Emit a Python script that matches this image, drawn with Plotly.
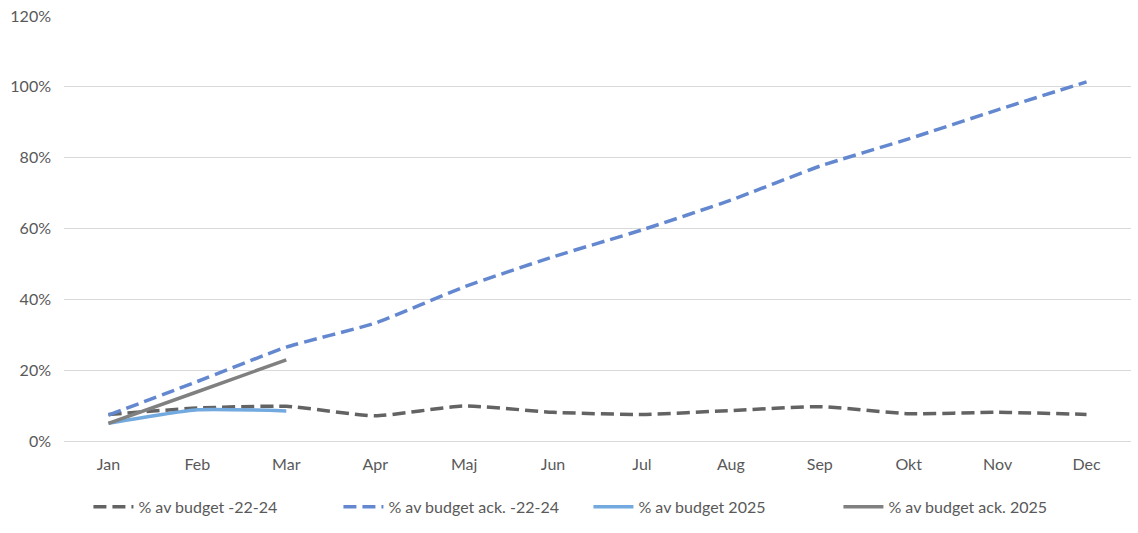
import plotly.graph_objects as go

months = ["Jan", "Feb", "Mar", "Apr", "Maj", "Jun", "Jul", "Aug", "Sep", "Okt", "Nov", "Dec"]
budget_22_24 = [0.075, 0.093, 0.098, 0.071, 0.099, 0.081, 0.075, 0.086, 0.097, 0.077, 0.081, 0.075]
budget_ack_22_24 = [0.073, 0.168, 0.265, 0.333, 0.435, 0.52, 0.596, 0.68, 0.776, 0.853, 0.935, 1.014]
budget_2025 = [0.05, 0.088, 0.085]
budget_ack_2025 = [0.05, 0.139, 0.229]

font = "Lato, 'Open Sans', sans-serif"
fig = go.Figure()
fig.add_trace(go.Scatter(x=months, y=budget_22_24, name="% av budget -22-24", mode="lines",
                         line=dict(color="#636363", width=3.5, dash="13px,6px", shape="spline", smoothing=0.5)))
fig.add_trace(go.Scatter(x=months, y=budget_ack_22_24, name="% av budget ack. -22-24", mode="lines",
                         line=dict(color="#6488CF", width=3.5, dash="13px,6px", shape="spline", smoothing=0.5)))
fig.add_trace(go.Scatter(x=months[:3], y=budget_2025, name="% av budget 2025", mode="lines",
                         line=dict(color="#72A9DE", width=3.5, shape="spline", smoothing=0.5)))
fig.add_trace(go.Scatter(x=months[:3], y=budget_ack_2025, name="% av budget ack. 2025", mode="lines",
                         line=dict(color="#808080", width=3.5, shape="spline", smoothing=0.5)))

fig.update_layout(
    width=1138, height=533,
    margin=dict(l=64, r=7, t=16, b=92),
    paper_bgcolor="white", plot_bgcolor="white",
    font=dict(family=font, size=16, color="#595959"),
    showlegend=True,
    legend=dict(orientation="h", x=0.4915, xanchor="center", y=-0.115, yanchor="top",
                font=dict(size=16, color="#595959"), itemwidth=40, traceorder="normal",
                entrywidth=195, entrywidthmode="pixels"),
)
fig.update_xaxes(type="category", range=[-0.5, 11.5], showgrid=False, showline=True,
                 linecolor="#d9d9d9", linewidth=1, ticks="", ticklabelstandoff=9,
                 tickfont=dict(size=16, color="#595959"))
fig.update_yaxes(range=[0, 1.2], dtick=0.2, tickformat=".0%", showgrid=True, gridcolor="#d9d9d9",
                 gridwidth=1, zeroline=False, showline=False, ticks="", ticklabelstandoff=12,
                 tickfont=dict(size=16, color="#595959"))

fig.write_html("out.html")
